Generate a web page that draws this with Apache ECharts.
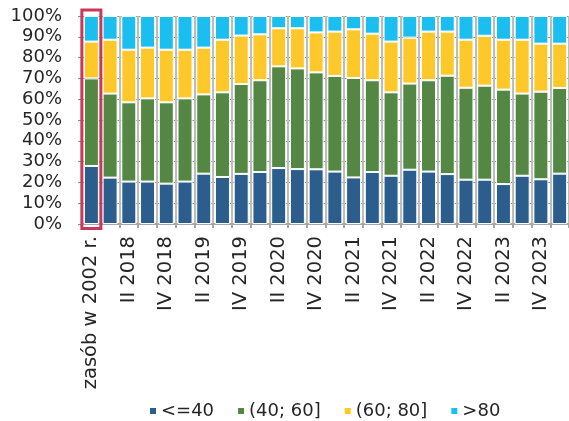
<!DOCTYPE html>
<html>
<head>
<meta charset="utf-8">
<script src="https://cdn.jsdelivr.net/npm/echarts@6/dist/echarts.min.js"></script>
<style>
  html, body { margin: 0; padding: 0; background: #ffffff; }
  #chart { width: 569px; height: 421px; }
</style>
</head>
<body>
<div id="chart"></div>
<script>
// Periods: the 2002 housing stock followed by quarters I 2018 – I 2024
const categories = [
  'zasób w 2002 r.',
  'I 2018', 'II 2018', 'III 2018', 'IV 2018',
  'I 2019', 'II 2019', 'III 2019', 'IV 2019',
  'I 2020', 'II 2020', 'III 2020', 'IV 2020',
  'I 2021', 'II 2021', 'III 2021', 'IV 2021',
  'I 2022', 'II 2022', 'III 2022', 'IV 2022',
  'I 2023', 'II 2023', 'III 2023', 'IV 2023',
  'I 2024'
];

// Share of dwellings by usable floor area (m²), percent
const upTo40 = [27.9, 22.3, 20.4, 20.4, 19.4, 20.4, 24.2, 22.6, 24.1, 25.0, 26.9, 26.4, 26.3,
                25.2, 22.4, 25.0, 23.2, 26.1, 25.2, 24.0, 21.3, 21.3, 19.2, 23.2, 21.5, 24.2];
const from40to60 = [42.1, 40.4, 38.1, 40.0, 39.1, 40.0, 38.1, 40.7, 43.2, 44.1, 48.9, 48.4, 46.6,
                    46.0, 47.8, 44.1, 40.1, 41.4, 43.9, 47.3, 44.2, 45.2, 45.4, 39.5, 42.1, 41.2];
const from60to80 = [17.7, 25.9, 25.3, 24.4, 25.3, 23.4, 22.5, 25.3, 23.3, 22.1, 18.3, 19.3, 19.2,
                    21.3, 23.4, 22.4, 24.4, 22.1, 23.4, 21.2, 23.1, 24.0, 24.0, 25.9, 23.1, 21.3];
const over80 = [12.3, 11.4, 16.2, 15.2, 16.2, 16.2, 15.2, 11.4, 9.4, 8.8, 5.9, 5.9, 7.9,
                7.5, 6.4, 8.5, 12.3, 10.4, 7.5, 7.5, 11.4, 9.5, 11.4, 11.4, 13.3, 13.3];

const seriesNames = ['<=40', '(40; 60]', '(60; 80]', '>80'];
const seriesData = [upTo40, from40to60, from60to80, over80];
const colors = ['#2c5e8d', '#548744', '#ffc82a', '#1abff0'];

const yTicks = [0, 10, 20, 30, 40, 50, 60, 70, 80, 90, 100];

const font = 'DejaVu Sans';
const textColor = '#262626';

const chart = echarts.init(document.getElementById('chart'), null, { renderer: 'canvas' });

const option = {
  animation: false,
  backgroundColor: '#ffffff',
  textStyle: { fontFamily: font },
  grid: { left: 82, right: 0, top: 16, bottom: 197, containLabel: false },
  legend: {
    left: 143,
    top: 397,
    itemWidth: 8,
    itemHeight: 8,
    itemGap: 22,
    icon: 'rect',
    textStyle: { fontFamily: font, fontSize: 18, color: textColor, padding: [0, 0, 0, -1] },
    data: seriesNames
  },
  xAxis: {
    type: 'category',
    data: categories,
    boundaryGap: true,
    axisLine: { show: true, lineStyle: { color: '#a6a6a6', width: 2 } },
    axisTick: { show: true, length: 4, interval: 0, lineStyle: { color: '#a6a6a6', width: 2 } },
    splitLine: { show: true, interval: 0, lineStyle: { color: '#bdbdbd', width: 2 } },
    axisLabel: {
      interval: 1,
      rotate: 90,
      margin: 12,
      fontFamily: font,
      fontSize: 19.5,
      color: textColor
    }
  },
  yAxis: {
    type: 'value',
    min: 0,
    max: 100,
    interval: 10,
    axisLine: { show: false },
    axisTick: { show: true, length: 4, lineStyle: { color: '#8c8c8c' } },
    splitLine: { show: true, lineStyle: { color: '#8c8c8c', width: 1 } },
    axisLabel: {
      margin: 20,
      fontFamily: font,
      fontSize: 18,
      color: textColor,
      formatter: function (v) { return yTicks.indexOf(v) >= 0 ? v + '%' : ''; }
    }
  },
  series: seriesNames.map(function (name, i) {
    return {
      name: name,
      type: 'bar',
      stack: 'share',
      barWidth: 15,
      data: seriesData[i],
      itemStyle: { color: colors[i], borderColor: '#ffffff', borderWidth: 1 },
      emphasis: { disabled: true }
    };
  })
};

chart.setOption(option);

// Frame highlighting the 2002 reference bar
const topLeft = chart.convertToPixel({ xAxisIndex: 0, yAxisIndex: 0 }, [0, 100]);
const bottom = chart.convertToPixel({ xAxisIndex: 0, yAxisIndex: 0 }, [0, 0]);
chart.setOption({
  graphic: [{
    type: 'rect',
    z: 100,
    shape: {
      x: topLeft[0] - 9.5,
      y: topLeft[1] - 6,
      width: 19,
      height: bottom[1] - topLeft[1] + 10.5
    },
    style: { fill: 'none', stroke: '#c8385a', lineWidth: 3 }
  }]
});
</script>
</body>
</html>
